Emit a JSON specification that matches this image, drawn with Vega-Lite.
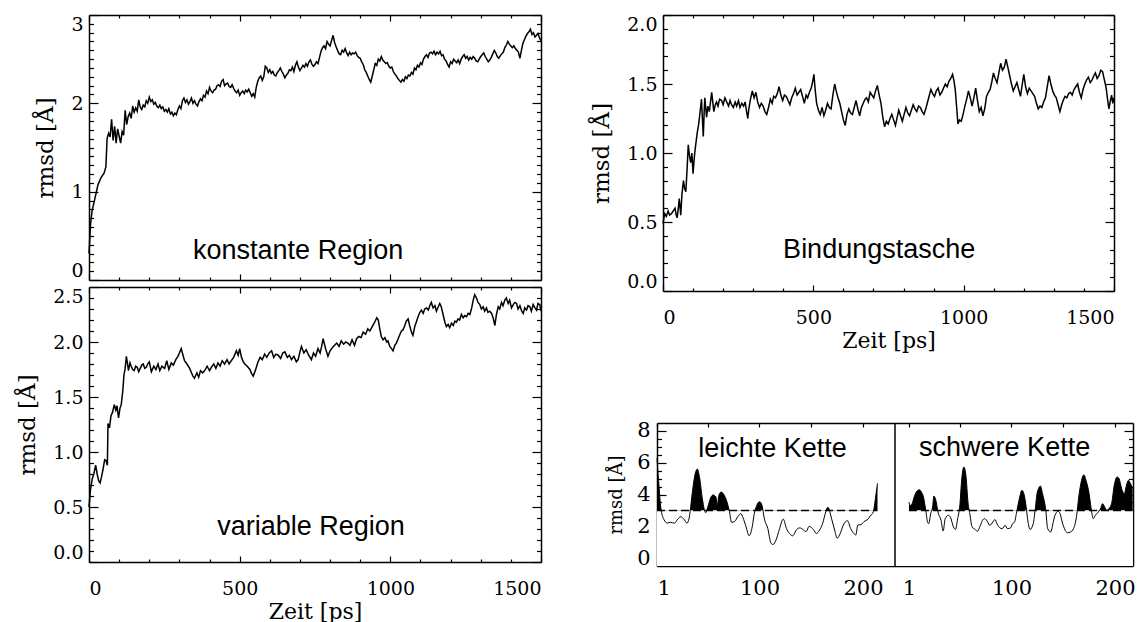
{
"$schema": "https://vega.github.io/schema/vega-lite/v6.json",
"background": "white",
"padding": {"left": 16, "top": 14, "right": 0, "bottom": 0},
"spacing": 46,
"config": {
  "view": {"stroke": null},
  "axis": {"domain": true, "domainColor": "black", "domainWidth": 1.5, "tickColor": "black", "tickWidth": 1.2,
    "labelFont": "DejaVu Serif", "labelFontSize": 19, "labelColor": "black",
    "titleFont": "DejaVu Serif", "titleFontSize": 23, "titleFontWeight": "normal", "titleColor": "black",
    "grid": false, "zindex": 1, "labelOverlap": false, "labelBound": false},
  "text": {"font": "Liberation Sans", "fontSize": 27, "color": "black"}
},
"datasets": {
"konstant": [{"t":0,"r":0.30},{"t":5,"r":0.62},{"t":10,"r":0.78},{"t":20,"r":0.93},{"t":30,"r":1.08},{"t":40,"r":1.16},{"t":50,"r":1.21},{"t":56,"r":1.28},{"t":60,"r":1.60},{"t":65,"r":1.66},{"t":70,"r":1.62},{"t":75,"r":1.82},{"t":80,"r":1.58},{"t":85,"r":1.74},{"t":90,"r":1.55},{"t":95,"r":1.71},{"t":100,"r":1.63},{"t":105,"r":1.55},{"t":110,"r":1.68},{"t":115,"r":1.64},{"t":120,"r":1.92},{"t":125,"r":1.76},{"t":130,"r":1.85},{"t":135,"r":1.89},{"t":140,"r":1.83},{"t":145,"r":1.97},{"t":150,"r":1.90},{"t":155,"r":1.95},{"t":160,"r":1.91},{"t":165,"r":2.04},{"t":170,"r":1.96},{"t":175,"r":1.93},{"t":180,"r":1.98},{"t":185,"r":1.96},{"t":190,"r":2.03},{"t":195,"r":2.00},{"t":200,"r":2.07},{"t":205,"r":2.02},{"t":210,"r":2.04},{"t":215,"r":1.99},{"t":220,"r":2.01},{"t":225,"r":1.97},{"t":230,"r":1.95},{"t":235,"r":1.98},{"t":240,"r":1.94},{"t":245,"r":1.96},{"t":250,"r":1.91},{"t":255,"r":1.93},{"t":260,"r":1.90},{"t":265,"r":1.94},{"t":270,"r":1.88},{"t":275,"r":1.90},{"t":280,"r":1.86},{"t":285,"r":1.89},{"t":290,"r":1.87},{"t":295,"r":1.93},{"t":300,"r":1.97},{"t":305,"r":1.94},{"t":310,"r":2.03},{"t":315,"r":2.06},{"t":320,"r":2.01},{"t":325,"r":2.04},{"t":330,"r":1.99},{"t":335,"r":2.02},{"t":340,"r":2.06},{"t":345,"r":2.00},{"t":350,"r":2.03},{"t":355,"r":1.99},{"t":360,"r":1.97},{"t":365,"r":2.02},{"t":370,"r":2.05},{"t":375,"r":2.03},{"t":380,"r":2.09},{"t":385,"r":2.07},{"t":390,"r":2.14},{"t":395,"r":2.11},{"t":400,"r":2.18},{"t":405,"r":2.14},{"t":410,"r":2.12},{"t":415,"r":2.15},{"t":420,"r":2.16},{"t":425,"r":2.20},{"t":430,"r":2.21},{"t":435,"r":2.19},{"t":440,"r":2.25},{"t":445,"r":2.27},{"t":450,"r":2.20},{"t":455,"r":2.22},{"t":460,"r":2.23},{"t":465,"r":2.19},{"t":470,"r":2.18},{"t":475,"r":2.21},{"t":480,"r":2.17},{"t":485,"r":2.14},{"t":490,"r":2.12},{"t":495,"r":2.15},{"t":500,"r":2.09},{"t":505,"r":2.12},{"t":510,"r":2.14},{"t":515,"r":2.11},{"t":520,"r":2.15},{"t":525,"r":2.13},{"t":530,"r":2.16},{"t":535,"r":2.12},{"t":540,"r":2.08},{"t":545,"r":2.11},{"t":550,"r":2.07},{"t":555,"r":2.18},{"t":560,"r":2.25},{"t":565,"r":2.29},{"t":570,"r":2.31},{"t":575,"r":2.26},{"t":580,"r":2.30},{"t":585,"r":2.42},{"t":590,"r":2.40},{"t":595,"r":2.35},{"t":600,"r":2.38},{"t":605,"r":2.34},{"t":610,"r":2.36},{"t":615,"r":2.32},{"t":620,"r":2.31},{"t":625,"r":2.35},{"t":630,"r":2.37},{"t":635,"r":2.40},{"t":640,"r":2.36},{"t":645,"r":2.33},{"t":650,"r":2.29},{"t":655,"r":2.32},{"t":660,"r":2.34},{"t":665,"r":2.38},{"t":670,"r":2.37},{"t":675,"r":2.41},{"t":680,"r":2.36},{"t":685,"r":2.43},{"t":690,"r":2.47},{"t":695,"r":2.41},{"t":700,"r":2.37},{"t":705,"r":2.40},{"t":710,"r":2.43},{"t":715,"r":2.41},{"t":720,"r":2.45},{"t":725,"r":2.42},{"t":730,"r":2.47},{"t":735,"r":2.49},{"t":740,"r":2.44},{"t":745,"r":2.42},{"t":750,"r":2.44},{"t":755,"r":2.47},{"t":760,"r":2.45},{"t":765,"r":2.52},{"t":770,"r":2.59},{"t":775,"r":2.63},{"t":780,"r":2.65},{"t":785,"r":2.62},{"t":790,"r":2.70},{"t":795,"r":2.67},{"t":800,"r":2.65},{"t":805,"r":2.71},{"t":810,"r":2.77},{"t":815,"r":2.69},{"t":820,"r":2.64},{"t":825,"r":2.60},{"t":830,"r":2.56},{"t":835,"r":2.55},{"t":840,"r":2.60},{"t":845,"r":2.58},{"t":850,"r":2.62},{"t":855,"r":2.57},{"t":860,"r":2.54},{"t":865,"r":2.58},{"t":870,"r":2.55},{"t":875,"r":2.57},{"t":880,"r":2.56},{"t":885,"r":2.58},{"t":890,"r":2.54},{"t":895,"r":2.52},{"t":900,"r":2.51},{"t":905,"r":2.47},{"t":910,"r":2.44},{"t":915,"r":2.38},{"t":920,"r":2.35},{"t":925,"r":2.31},{"t":930,"r":2.27},{"t":935,"r":2.24},{"t":940,"r":2.31},{"t":945,"r":2.38},{"t":950,"r":2.45},{"t":955,"r":2.43},{"t":960,"r":2.50},{"t":965,"r":2.48},{"t":970,"r":2.53},{"t":975,"r":2.49},{"t":980,"r":2.47},{"t":985,"r":2.45},{"t":990,"r":2.46},{"t":995,"r":2.42},{"t":1000,"r":2.40},{"t":1005,"r":2.41},{"t":1010,"r":2.36},{"t":1015,"r":2.33},{"t":1020,"r":2.31},{"t":1025,"r":2.28},{"t":1030,"r":2.26},{"t":1035,"r":2.24},{"t":1040,"r":2.27},{"t":1045,"r":2.25},{"t":1050,"r":2.30},{"t":1055,"r":2.28},{"t":1060,"r":2.32},{"t":1065,"r":2.31},{"t":1070,"r":2.35},{"t":1075,"r":2.33},{"t":1080,"r":2.40},{"t":1085,"r":2.38},{"t":1090,"r":2.43},{"t":1095,"r":2.41},{"t":1100,"r":2.46},{"t":1105,"r":2.44},{"t":1110,"r":2.50},{"t":1115,"r":2.53},{"t":1120,"r":2.55},{"t":1125,"r":2.52},{"t":1130,"r":2.57},{"t":1135,"r":2.58},{"t":1140,"r":2.56},{"t":1145,"r":2.59},{"t":1150,"r":2.55},{"t":1155,"r":2.58},{"t":1160,"r":2.56},{"t":1165,"r":2.59},{"t":1170,"r":2.54},{"t":1175,"r":2.55},{"t":1180,"r":2.50},{"t":1185,"r":2.48},{"t":1190,"r":2.44},{"t":1195,"r":2.41},{"t":1200,"r":2.47},{"t":1205,"r":2.45},{"t":1210,"r":2.50},{"t":1215,"r":2.48},{"t":1220,"r":2.46},{"t":1225,"r":2.49},{"t":1230,"r":2.45},{"t":1235,"r":2.50},{"t":1240,"r":2.53},{"t":1245,"r":2.55},{"t":1250,"r":2.51},{"t":1255,"r":2.53},{"t":1260,"r":2.49},{"t":1265,"r":2.52},{"t":1270,"r":2.50},{"t":1275,"r":2.53},{"t":1280,"r":2.51},{"t":1285,"r":2.48},{"t":1290,"r":2.47},{"t":1295,"r":2.50},{"t":1300,"r":2.53},{"t":1305,"r":2.55},{"t":1310,"r":2.57},{"t":1315,"r":2.53},{"t":1320,"r":2.50},{"t":1325,"r":2.47},{"t":1330,"r":2.49},{"t":1335,"r":2.52},{"t":1340,"r":2.56},{"t":1345,"r":2.60},{"t":1350,"r":2.57},{"t":1355,"r":2.53},{"t":1360,"r":2.51},{"t":1365,"r":2.54},{"t":1370,"r":2.56},{"t":1375,"r":2.58},{"t":1380,"r":2.63},{"t":1385,"r":2.66},{"t":1390,"r":2.70},{"t":1395,"r":2.67},{"t":1400,"r":2.65},{"t":1405,"r":2.63},{"t":1410,"r":2.65},{"t":1415,"r":2.62},{"t":1420,"r":2.60},{"t":1425,"r":2.58},{"t":1430,"r":2.51},{"t":1435,"r":2.60},{"t":1440,"r":2.68},{"t":1445,"r":2.72},{"t":1450,"r":2.76},{"t":1455,"r":2.79},{"t":1460,"r":2.81},{"t":1465,"r":2.84},{"t":1470,"r":2.78},{"t":1475,"r":2.80},{"t":1480,"r":2.75},{"t":1485,"r":2.77},{"t":1490,"r":2.79},{"t":1495,"r":2.74},{"t":1500,"r":2.71}],
"variabel": [{"t":0,"r":0.50},{"t":5,"r":0.66},{"t":11,"r":0.76},{"t":16,"r":0.80},{"t":22,"r":0.88},{"t":27,"r":0.80},{"t":32,"r":0.74},{"t":37,"r":0.72},{"t":42,"r":0.78},{"t":47,"r":0.85},{"t":52,"r":0.93},{"t":57,"r":0.92},{"t":61,"r":0.88},{"t":63,"r":1.26},{"t":68,"r":1.22},{"t":73,"r":1.33},{"t":78,"r":1.36},{"t":84,"r":1.43},{"t":89,"r":1.38},{"t":93,"r":1.42},{"t":98,"r":1.31},{"t":103,"r":1.40},{"t":107,"r":1.43},{"t":112,"r":1.55},{"t":116,"r":1.70},{"t":120,"r":1.76},{"t":124,"r":1.87},{"t":128,"r":1.80},{"t":131,"r":1.74},{"t":136,"r":1.81},{"t":140,"r":1.78},{"t":145,"r":1.75},{"t":150,"r":1.74},{"t":155,"r":1.78},{"t":160,"r":1.77},{"t":165,"r":1.73},{"t":170,"r":1.76},{"t":175,"r":1.79},{"t":180,"r":1.80},{"t":185,"r":1.76},{"t":190,"r":1.77},{"t":195,"r":1.80},{"t":200,"r":1.82},{"t":207,"r":1.73},{"t":215,"r":1.78},{"t":222,"r":1.75},{"t":229,"r":1.80},{"t":235,"r":1.74},{"t":242,"r":1.78},{"t":251,"r":1.76},{"t":258,"r":1.83},{"t":265,"r":1.75},{"t":273,"r":1.81},{"t":280,"r":1.79},{"t":288,"r":1.84},{"t":295,"r":1.87},{"t":300,"r":1.90},{"t":306,"r":1.94},{"t":312,"r":1.88},{"t":317,"r":1.83},{"t":325,"r":1.80},{"t":334,"r":1.76},{"t":340,"r":1.72},{"t":345,"r":1.69},{"t":350,"r":1.67},{"t":358,"r":1.72},{"t":364,"r":1.68},{"t":370,"r":1.74},{"t":377,"r":1.72},{"t":384,"r":1.74},{"t":392,"r":1.78},{"t":400,"r":1.74},{"t":406,"r":1.77},{"t":414,"r":1.80},{"t":421,"r":1.76},{"t":428,"r":1.81},{"t":435,"r":1.78},{"t":442,"r":1.83},{"t":450,"r":1.80},{"t":458,"r":1.84},{"t":465,"r":1.80},{"t":472,"r":1.83},{"t":480,"r":1.86},{"t":489,"r":1.92},{"t":495,"r":1.88},{"t":500,"r":1.94},{"t":506,"r":1.86},{"t":512,"r":1.82},{"t":517,"r":1.80},{"t":525,"r":1.78},{"t":534,"r":1.75},{"t":540,"r":1.71},{"t":545,"r":1.69},{"t":552,"r":1.74},{"t":561,"r":1.82},{"t":568,"r":1.86},{"t":575,"r":1.84},{"t":583,"r":1.89},{"t":590,"r":1.86},{"t":598,"r":1.90},{"t":606,"r":1.92},{"t":613,"r":1.86},{"t":620,"r":1.89},{"t":628,"r":1.88},{"t":636,"r":1.85},{"t":643,"r":1.90},{"t":650,"r":1.91},{"t":658,"r":1.86},{"t":665,"r":1.88},{"t":672,"r":1.84},{"t":680,"r":1.87},{"t":688,"r":1.82},{"t":694,"r":1.84},{"t":700,"r":1.91},{"t":705,"r":1.96},{"t":713,"r":1.90},{"t":721,"r":1.93},{"t":729,"r":1.88},{"t":738,"r":1.84},{"t":745,"r":1.90},{"t":752,"r":1.87},{"t":760,"r":1.94},{"t":767,"r":1.90},{"t":772,"r":1.96},{"t":777,"r":2.03},{"t":785,"r":1.94},{"t":793,"r":1.87},{"t":800,"r":1.92},{"t":808,"r":1.95},{"t":815,"r":1.97},{"t":822,"r":1.99},{"t":830,"r":1.96},{"t":837,"r":2.01},{"t":845,"r":1.98},{"t":852,"r":2.00},{"t":859,"r":1.99},{"t":866,"r":1.97},{"t":873,"r":2.02},{"t":881,"r":1.97},{"t":888,"r":2.03},{"t":895,"r":2.05},{"t":903,"r":2.04},{"t":910,"r":2.09},{"t":918,"r":2.07},{"t":925,"r":2.12},{"t":932,"r":2.10},{"t":940,"r":2.14},{"t":948,"r":2.18},{"t":955,"r":2.22},{"t":960,"r":2.20},{"t":965,"r":2.12},{"t":970,"r":2.05},{"t":976,"r":2.02},{"t":982,"r":2.04},{"t":988,"r":2.00},{"t":992,"r":2.01},{"t":998,"r":1.96},{"t":1004,"r":1.94},{"t":1009,"r":1.92},{"t":1015,"r":1.97},{"t":1020,"r":1.99},{"t":1026,"r":2.03},{"t":1032,"r":2.07},{"t":1037,"r":2.10},{"t":1042,"r":2.11},{"t":1048,"r":2.15},{"t":1053,"r":2.19},{"t":1059,"r":2.21},{"t":1064,"r":2.15},{"t":1070,"r":2.09},{"t":1075,"r":2.06},{"t":1081,"r":2.14},{"t":1086,"r":2.18},{"t":1092,"r":2.23},{"t":1098,"r":2.27},{"t":1103,"r":2.29},{"t":1109,"r":2.26},{"t":1114,"r":2.30},{"t":1120,"r":2.31},{"t":1126,"r":2.29},{"t":1131,"r":2.33},{"t":1136,"r":2.36},{"t":1142,"r":2.31},{"t":1148,"r":2.33},{"t":1153,"r":2.28},{"t":1159,"r":2.32},{"t":1164,"r":2.35},{"t":1169,"r":2.32},{"t":1175,"r":2.25},{"t":1181,"r":2.18},{"t":1186,"r":2.14},{"t":1192,"r":2.16},{"t":1197,"r":2.13},{"t":1203,"r":2.17},{"t":1209,"r":2.15},{"t":1214,"r":2.19},{"t":1219,"r":2.18},{"t":1225,"r":2.21},{"t":1230,"r":2.20},{"t":1236,"r":2.25},{"t":1242,"r":2.22},{"t":1247,"r":2.24},{"t":1253,"r":2.23},{"t":1258,"r":2.26},{"t":1264,"r":2.25},{"t":1270,"r":2.31},{"t":1275,"r":2.38},{"t":1280,"r":2.43},{"t":1286,"r":2.40},{"t":1291,"r":2.36},{"t":1297,"r":2.34},{"t":1302,"r":2.30},{"t":1308,"r":2.32},{"t":1313,"r":2.28},{"t":1319,"r":2.31},{"t":1324,"r":2.27},{"t":1330,"r":2.28},{"t":1336,"r":2.26},{"t":1341,"r":2.22},{"t":1347,"r":2.15},{"t":1352,"r":2.25},{"t":1358,"r":2.32},{"t":1363,"r":2.30},{"t":1369,"r":2.36},{"t":1374,"r":2.33},{"t":1380,"r":2.38},{"t":1385,"r":2.40},{"t":1391,"r":2.35},{"t":1396,"r":2.38},{"t":1402,"r":2.31},{"t":1408,"r":2.34},{"t":1413,"r":2.36},{"t":1419,"r":2.35},{"t":1424,"r":2.30},{"t":1430,"r":2.33},{"t":1436,"r":2.28},{"t":1441,"r":2.26},{"t":1446,"r":2.31},{"t":1452,"r":2.29},{"t":1457,"r":2.33},{"t":1463,"r":2.32},{"t":1468,"r":2.28},{"t":1474,"r":2.34},{"t":1480,"r":2.31},{"t":1485,"r":2.29},{"t":1490,"r":2.35},{"t":1496,"r":2.34},{"t":1500,"r":2.28}],
"tasche": [{"t":0,"r":0.49},{"t":3,"r":0.53},{"t":6,"r":0.56},{"t":11,"r":0.54},{"t":17,"r":0.58},{"t":22,"r":0.55},{"t":28,"r":0.56},{"t":34,"r":0.58},{"t":40,"r":0.60},{"t":44,"r":0.55},{"t":47,"r":0.53},{"t":51,"r":0.60},{"t":54,"r":0.67},{"t":57,"r":0.60},{"t":59,"r":0.55},{"t":63,"r":0.70},{"t":68,"r":0.80},{"t":72,"r":0.74},{"t":76,"r":0.72},{"t":80,"r":0.88},{"t":84,"r":1.06},{"t":88,"r":0.98},{"t":92,"r":0.93},{"t":96,"r":1.00},{"t":100,"r":0.85},{"t":103,"r":0.94},{"t":106,"r":1.01},{"t":110,"r":1.08},{"t":114,"r":1.15},{"t":118,"r":1.20},{"t":123,"r":1.29},{"t":128,"r":1.39},{"t":131,"r":1.25},{"t":134,"r":1.12},{"t":137,"r":1.30},{"t":139,"r":1.40},{"t":142,"r":1.33},{"t":145,"r":1.26},{"t":149,"r":1.34},{"t":154,"r":1.30},{"t":158,"r":1.37},{"t":162,"r":1.44},{"t":166,"r":1.36},{"t":169,"r":1.30},{"t":174,"r":1.35},{"t":178,"r":1.37},{"t":183,"r":1.34},{"t":188,"r":1.39},{"t":195,"r":1.38},{"t":200,"r":1.35},{"t":206,"r":1.40},{"t":212,"r":1.37},{"t":218,"r":1.34},{"t":223,"r":1.38},{"t":228,"r":1.35},{"t":234,"r":1.33},{"t":240,"r":1.37},{"t":245,"r":1.34},{"t":251,"r":1.38},{"t":256,"r":1.33},{"t":262,"r":1.36},{"t":268,"r":1.34},{"t":273,"r":1.37},{"t":278,"r":1.30},{"t":282,"r":1.25},{"t":285,"r":1.31},{"t":290,"r":1.38},{"t":297,"r":1.45},{"t":303,"r":1.40},{"t":309,"r":1.44},{"t":315,"r":1.37},{"t":321,"r":1.33},{"t":327,"r":1.36},{"t":333,"r":1.34},{"t":339,"r":1.30},{"t":345,"r":1.28},{"t":351,"r":1.33},{"t":357,"r":1.39},{"t":363,"r":1.36},{"t":368,"r":1.41},{"t":374,"r":1.40},{"t":380,"r":1.43},{"t":386,"r":1.48},{"t":392,"r":1.42},{"t":398,"r":1.38},{"t":404,"r":1.42},{"t":410,"r":1.41},{"t":416,"r":1.38},{"t":422,"r":1.35},{"t":428,"r":1.40},{"t":434,"r":1.43},{"t":440,"r":1.47},{"t":446,"r":1.42},{"t":452,"r":1.44},{"t":458,"r":1.46},{"t":464,"r":1.41},{"t":470,"r":1.36},{"t":476,"r":1.42},{"t":481,"r":1.40},{"t":487,"r":1.44},{"t":493,"r":1.47},{"t":498,"r":1.52},{"t":502,"r":1.57},{"t":506,"r":1.46},{"t":511,"r":1.36},{"t":517,"r":1.31},{"t":523,"r":1.28},{"t":529,"r":1.33},{"t":535,"r":1.27},{"t":541,"r":1.31},{"t":547,"r":1.36},{"t":553,"r":1.33},{"t":559,"r":1.32},{"t":565,"r":1.42},{"t":571,"r":1.50},{"t":576,"r":1.45},{"t":582,"r":1.40},{"t":588,"r":1.36},{"t":594,"r":1.30},{"t":600,"r":1.24},{"t":606,"r":1.20},{"t":612,"r":1.28},{"t":618,"r":1.32},{"t":624,"r":1.29},{"t":630,"r":1.28},{"t":636,"r":1.33},{"t":642,"r":1.38},{"t":648,"r":1.32},{"t":654,"r":1.27},{"t":660,"r":1.33},{"t":666,"r":1.36},{"t":672,"r":1.39},{"t":677,"r":1.40},{"t":683,"r":1.37},{"t":689,"r":1.44},{"t":695,"r":1.42},{"t":701,"r":1.40},{"t":707,"r":1.45},{"t":713,"r":1.49},{"t":719,"r":1.42},{"t":725,"r":1.36},{"t":731,"r":1.26},{"t":737,"r":1.19},{"t":743,"r":1.23},{"t":749,"r":1.21},{"t":755,"r":1.25},{"t":761,"r":1.28},{"t":767,"r":1.24},{"t":773,"r":1.20},{"t":779,"r":1.26},{"t":784,"r":1.31},{"t":790,"r":1.27},{"t":796,"r":1.23},{"t":802,"r":1.28},{"t":808,"r":1.33},{"t":814,"r":1.29},{"t":820,"r":1.27},{"t":826,"r":1.31},{"t":832,"r":1.35},{"t":838,"r":1.32},{"t":844,"r":1.30},{"t":850,"r":1.34},{"t":856,"r":1.33},{"t":862,"r":1.30},{"t":868,"r":1.28},{"t":874,"r":1.32},{"t":880,"r":1.37},{"t":886,"r":1.42},{"t":891,"r":1.46},{"t":897,"r":1.43},{"t":903,"r":1.41},{"t":909,"r":1.45},{"t":915,"r":1.47},{"t":921,"r":1.42},{"t":927,"r":1.44},{"t":933,"r":1.47},{"t":939,"r":1.50},{"t":945,"r":1.48},{"t":951,"r":1.52},{"t":957,"r":1.54},{"t":963,"r":1.57},{"t":968,"r":1.52},{"t":972,"r":1.46},{"t":976,"r":1.35},{"t":981,"r":1.21},{"t":986,"r":1.24},{"t":992,"r":1.23},{"t":998,"r":1.28},{"t":1004,"r":1.34},{"t":1010,"r":1.39},{"t":1016,"r":1.45},{"t":1022,"r":1.40},{"t":1028,"r":1.34},{"t":1034,"r":1.40},{"t":1040,"r":1.47},{"t":1046,"r":1.38},{"t":1052,"r":1.30},{"t":1058,"r":1.33},{"t":1064,"r":1.27},{"t":1070,"r":1.32},{"t":1076,"r":1.41},{"t":1082,"r":1.44},{"t":1088,"r":1.46},{"t":1094,"r":1.52},{"t":1099,"r":1.58},{"t":1105,"r":1.54},{"t":1111,"r":1.51},{"t":1117,"r":1.58},{"t":1123,"r":1.65},{"t":1129,"r":1.60},{"t":1135,"r":1.62},{"t":1141,"r":1.68},{"t":1147,"r":1.62},{"t":1153,"r":1.56},{"t":1159,"r":1.50},{"t":1165,"r":1.45},{"t":1171,"r":1.48},{"t":1177,"r":1.51},{"t":1183,"r":1.46},{"t":1189,"r":1.41},{"t":1195,"r":1.50},{"t":1200,"r":1.57},{"t":1206,"r":1.48},{"t":1212,"r":1.43},{"t":1218,"r":1.47},{"t":1224,"r":1.45},{"t":1230,"r":1.43},{"t":1236,"r":1.41},{"t":1242,"r":1.36},{"t":1248,"r":1.32},{"t":1254,"r":1.34},{"t":1260,"r":1.33},{"t":1266,"r":1.37},{"t":1272,"r":1.40},{"t":1278,"r":1.48},{"t":1284,"r":1.56},{"t":1290,"r":1.50},{"t":1296,"r":1.45},{"t":1302,"r":1.42},{"t":1308,"r":1.40},{"t":1314,"r":1.35},{"t":1320,"r":1.30},{"t":1326,"r":1.35},{"t":1331,"r":1.38},{"t":1337,"r":1.41},{"t":1343,"r":1.40},{"t":1349,"r":1.43},{"t":1355,"r":1.44},{"t":1361,"r":1.42},{"t":1367,"r":1.46},{"t":1373,"r":1.48},{"t":1379,"r":1.50},{"t":1385,"r":1.44},{"t":1391,"r":1.40},{"t":1397,"r":1.46},{"t":1403,"r":1.50},{"t":1409,"r":1.53},{"t":1415,"r":1.55},{"t":1421,"r":1.51},{"t":1427,"r":1.53},{"t":1433,"r":1.56},{"t":1438,"r":1.58},{"t":1444,"r":1.54},{"t":1450,"r":1.56},{"t":1456,"r":1.60},{"t":1462,"r":1.59},{"t":1468,"r":1.53},{"t":1474,"r":1.47},{"t":1478,"r":1.40},{"t":1483,"r":1.32},{"t":1488,"r":1.38},{"t":1492,"r":1.42},{"t":1496,"r":1.36},{"t":1500,"r":1.40}],
"leicht": [{"res":1,"r":6.3},{"res":2,"r":5.3},{"res":3,"r":4.5},{"res":4,"r":3.6},{"res":5,"r":3.02},{"res":8,"r":2.39},{"res":11,"r":2.2},{"res":14,"r":2.25},{"res":18,"r":2.2},{"res":21,"r":2.45},{"res":24,"r":2.6},{"res":27,"r":2.45},{"res":30,"r":2.2},{"res":32,"r":2.5},{"res":33,"r":2.92},{"res":35,"r":4.07},{"res":38,"r":5.33},{"res":40,"r":5.6},{"res":42,"r":5.12},{"res":45,"r":3.65},{"res":48,"r":2.85},{"res":50,"r":3.2},{"res":53,"r":3.82},{"res":55,"r":3.97},{"res":58,"r":3.85},{"res":59,"r":3.3},{"res":61,"r":4.0},{"res":63,"r":4.15},{"res":66,"r":3.95},{"res":68,"r":3.65},{"res":71,"r":2.92},{"res":73,"r":2.25},{"res":76,"r":2.3},{"res":79,"r":2.6},{"res":82,"r":2.8},{"res":84,"r":2.55},{"res":87,"r":1.97},{"res":90,"r":1.4},{"res":93,"r":1.97},{"res":95,"r":2.81},{"res":97,"r":3.25},{"res":100,"r":3.55},{"res":102,"r":3.4},{"res":105,"r":2.39},{"res":108,"r":1.87},{"res":111,"r":0.95},{"res":113,"r":0.85},{"res":116,"r":1.14},{"res":119,"r":1.76},{"res":123,"r":2.45},{"res":126,"r":1.87},{"res":129,"r":1.55},{"res":132,"r":1.4},{"res":136,"r":1.8},{"res":139,"r":1.9},{"res":142,"r":1.8},{"res":145,"r":1.66},{"res":148,"r":2.0},{"res":152,"r":1.8},{"res":155,"r":1.55},{"res":158,"r":1.76},{"res":161,"r":2.18},{"res":164,"r":2.9},{"res":166,"r":3.2},{"res":170,"r":2.39},{"res":173,"r":1.66},{"res":175,"r":1.25},{"res":178,"r":1.55},{"res":181,"r":2.08},{"res":185,"r":2.35},{"res":188,"r":1.87},{"res":191,"r":1.55},{"res":193,"r":1.45},{"res":195,"r":2.08},{"res":198,"r":2.1},{"res":201,"r":2.3},{"res":204,"r":2.4},{"res":207,"r":2.65},{"res":210,"r":2.92},{"res":212,"r":3.76},{"res":214,"r":4.7}],
"schwer": [{"res":1,"r":3.52},{"res":2,"r":3.31},{"res":4,"r":3.42},{"res":6,"r":3.84},{"res":8,"r":4.15},{"res":11,"r":4.3},{"res":13,"r":4.15},{"res":15,"r":3.84},{"res":17,"r":3.1},{"res":19,"r":2.25},{"res":20,"r":2.16},{"res":22,"r":2.79},{"res":24,"r":3.31},{"res":25,"r":3.9},{"res":27,"r":3.63},{"res":29,"r":2.9},{"res":32,"r":2.37},{"res":34,"r":1.7},{"res":36,"r":2.48},{"res":39,"r":2.69},{"res":41,"r":2.58},{"res":44,"r":1.95},{"res":46,"r":1.8},{"res":48,"r":2.48},{"res":50,"r":3.21},{"res":52,"r":4.99},{"res":54,"r":5.73},{"res":56,"r":5.2},{"res":58,"r":3.52},{"res":60,"r":2.69},{"res":62,"r":1.95},{"res":65,"r":1.8},{"res":67,"r":1.68},{"res":70,"r":2.06},{"res":72,"r":2.37},{"res":74,"r":2.48},{"res":77,"r":2.27},{"res":79,"r":2.06},{"res":82,"r":2.27},{"res":84,"r":2.43},{"res":86,"r":2.16},{"res":89,"r":1.89},{"res":91,"r":1.85},{"res":94,"r":2.06},{"res":96,"r":1.85},{"res":99,"r":1.89},{"res":101,"r":2.16},{"res":103,"r":2.27},{"res":105,"r":2.9},{"res":108,"r":3.84},{"res":110,"r":4.26},{"res":112,"r":4.05},{"res":114,"r":3.31},{"res":116,"r":2.27},{"res":118,"r":1.8},{"res":121,"r":2.16},{"res":123,"r":3.1},{"res":125,"r":4.15},{"res":128,"r":4.53},{"res":130,"r":4.05},{"res":133,"r":3.1},{"res":135,"r":1.85},{"res":138,"r":1.64},{"res":140,"r":2.16},{"res":142,"r":2.69},{"res":145,"r":2.94},{"res":147,"r":2.79},{"res":149,"r":2.27},{"res":152,"r":1.74},{"res":154,"r":1.59},{"res":157,"r":1.64},{"res":160,"r":1.85},{"res":163,"r":2.69},{"res":165,"r":3.84},{"res":167,"r":4.68},{"res":170,"r":5.24},{"res":172,"r":4.89},{"res":175,"r":4.05},{"res":177,"r":3.1},{"res":179,"r":2.48},{"res":181,"r":2.69},{"res":184,"r":2.9},{"res":186,"r":3.1},{"res":188,"r":3.42},{"res":190,"r":3.21},{"res":192,"r":3.0},{"res":194,"r":3.1},{"res":197,"r":3.52},{"res":199,"r":4.47},{"res":202,"r":5.1},{"res":204,"r":4.99},{"res":206,"r":4.47},{"res":209,"r":4.05},{"res":211,"r":4.57},{"res":213,"r":4.89},{"res":215,"r":4.68},{"res":217,"r":4.4}]
},
"hconcat": [
 {"vconcat": [
  {"width": 452, "height": 265, "data": {"name": "konstant"},
   "layer": [
    {"mark": {"type": "line", "color": "black", "strokeWidth": 1.5},
     "encoding": {
      "x": {"field": "t", "type": "quantitative", "scale": {"domain": [0, 1500], "nice": false, "zero": false},
        "axis": {"orient": "bottom", "values": [0,100,200,300,400,500,600,700,800,900,1000,1100,1200,1300,1400,1500], "labels": false, "title": null,
          "tickSize": {"condition": {"test": "datum.value % 500 === 0", "value": -6}, "value": -3}}},
      "y": {"field": "r", "type": "quantitative", "scale": {"domain": [0, 3], "nice": false, "zero": false},
        "axis": {"orient": "left", "values": [0,0.1,0.2,0.3,0.4,0.5,0.6,0.7,0.8,0.9,1,1.1,1.2,1.3,1.4,1.5,1.6,1.7,1.8,1.9,2,2.1,2.2,2.3,2.4,2.5,2.6,2.7,2.8,2.9,3],
          "labelExpr": "datum.value % 1 === 0 ? format(datum.value, 'd') : ''", "labelFlush": true, "labelPadding": 15, "labelOverlap": false,
          "tickSize": {"condition": {"test": "datum.value % 1 === 0", "value": -9}, "value": -4.5},
          "title": "rmsd [Å]", "titlePadding": 13}}
     }},
    {"mark": {"type": "line", "opacity": 0},
     "encoding": {
      "x": {"field": "t", "type": "quantitative",
        "axis": {"orient": "top", "values": [0,100,200,300,400,500,600,700,800,900,1000,1100,1200,1300,1400,1500], "labels": false, "title": null,
          "tickSize": {"condition": {"test": "datum.value % 500 === 0", "value": -6}, "value": -3}}},
      "y": {"field": "r", "type": "quantitative",
        "axis": {"orient": "right", "values": [0,0.1,0.2,0.3,0.4,0.5,0.6,0.7,0.8,0.9,1,1.1,1.2,1.3,1.4,1.5,1.6,1.7,1.8,1.9,2,2.1,2.2,2.3,2.4,2.5,2.6,2.7,2.8,2.9,3],
          "labels": false, "title": null,
          "tickSize": {"condition": {"test": "datum.value % 1 === 0", "value": -9}, "value": -4.5}}}
     }},
    {"data": {"values": [{}]},
     "mark": {"type": "text", "align": "center", "baseline": "alphabetic"},
     "encoding": {"x": {"datum": 694, "type": "quantitative", "axis": null}, "y": {"datum": 0.237, "type": "quantitative", "axis": null}, "text": {"value": "konstante Region"}}}
   ],
   "resolve": {"axis": {"x": "independent", "y": "independent"}}
  },
  {"width": 452, "height": 275, "data": {"name": "variabel"},
   "layer": [
    {"mark": {"type": "line", "color": "black", "strokeWidth": 1.5},
     "encoding": {
      "x": {"field": "t", "type": "quantitative", "scale": {"domain": [0, 1500], "nice": false, "zero": false},
        "axis": {"orient": "bottom", "values": [0,100,200,300,400,500,600,700,800,900,1000,1100,1200,1300,1400,1500],
          "labelExpr": "datum.value % 500 === 0 ? format(datum.value, 'd') : ''", "labelPadding": 23,
          "tickSize": {"condition": {"test": "datum.value % 500 === 0", "value": -6}, "value": -3},
          "title": "Zeit [ps]", "titleFontSize": 22, "titlePadding": 0}},
      "y": {"field": "r", "type": "quantitative", "scale": {"domain": [0, 2.5], "nice": false, "zero": false},
        "axis": {"orient": "left", "values": [0,0.1,0.2,0.3,0.4,0.5,0.6,0.7,0.8,0.9,1,1.1,1.2,1.3,1.4,1.5,1.6,1.7,1.8,1.9,2,2.1,2.2,2.3,2.4,2.5],
          "labelExpr": "datum.value % 0.5 === 0 ? format(datum.value, '.1f') : ''", "labelFlush": true, "labelPadding": 15,
          "tickSize": {"condition": {"test": "datum.value % 0.5 === 0", "value": -9}, "value": -4.5},
          "title": "rmsd [Å]", "titlePadding": 13}}
     }},
    {"mark": {"type": "line", "opacity": 0},
     "encoding": {
      "x": {"field": "t", "type": "quantitative",
        "axis": {"orient": "top", "values": [0,100,200,300,400,500,600,700,800,900,1000,1100,1200,1300,1400,1500], "labels": false, "title": null,
          "tickSize": {"condition": {"test": "datum.value % 500 === 0", "value": -6}, "value": -3}}},
      "y": {"field": "r", "type": "quantitative",
        "axis": {"orient": "right", "values": [0,0.1,0.2,0.3,0.4,0.5,0.6,0.7,0.8,0.9,1,1.1,1.2,1.3,1.4,1.5,1.6,1.7,1.8,1.9,2,2.1,2.2,2.3,2.4,2.5],
          "labels": false, "title": null,
          "tickSize": {"condition": {"test": "datum.value % 0.5 === 0", "value": -9}, "value": -4.5}}}
     }},
    {"data": {"values": [{}]},
     "mark": {"type": "text", "align": "center", "baseline": "alphabetic"},
     "encoding": {"x": {"datum": 737, "type": "quantitative", "axis": null}, "y": {"datum": 0.245, "type": "quantitative", "axis": null}, "text": {"value": "variable Region"}}}
   ],
   "resolve": {"axis": {"x": "independent", "y": "independent"}}
  }
 ], "spacing": 7, "bounds": "flush"},
 {"vconcat": [
  {"width": 457, "height": 276, "data": {"name": "tasche"},
   "layer": [
    {"mark": {"type": "line", "color": "black", "strokeWidth": 1.5},
     "encoding": {
      "x": {"field": "t", "type": "quantitative", "scale": {"domain": [0, 1500], "nice": false, "zero": false, "range": [6, 457]},
        "axis": {"orient": "bottom", "values": [0,100,200,300,400,500,600,700,800,900,1000,1100,1200,1300,1400,1500],
          "labelExpr": "datum.value % 500 === 0 ? format(datum.value, 'd') : ''", "labelPadding": 23,
          "tickSize": {"condition": {"test": "datum.value % 500 === 0", "value": -6}, "value": -3},
          "title": "Zeit [ps]", "titleFontSize": 22, "titlePadding": 0}},
      "y": {"field": "r", "type": "quantitative", "scale": {"domain": [0, 2], "nice": false, "zero": false},
        "axis": {"orient": "left", "offset": -6, "values": [0,0.1,0.2,0.3,0.4,0.5,0.6,0.7,0.8,0.9,1,1.1,1.2,1.3,1.4,1.5,1.6,1.7,1.8,1.9,2],
          "labelExpr": "datum.value % 0.5 === 0 ? format(datum.value, '.1f') : ''", "labelFlush": true, "labelPadding": 15,
          "tickSize": {"condition": {"test": "datum.value % 0.5 === 0", "value": -9}, "value": -4.5},
          "title": "rmsd [Å]", "titlePadding": 13}}
     }},
    {"mark": {"type": "line", "opacity": 0},
     "encoding": {
      "x": {"field": "t", "type": "quantitative",
        "axis": {"orient": "top", "values": [0,100,200,300,400,500,600,700,800,900,1000,1100,1200,1300,1400,1500], "labels": false, "title": null,
          "tickSize": {"condition": {"test": "datum.value % 500 === 0", "value": -6}, "value": -3}}},
      "y": {"field": "r", "type": "quantitative",
        "axis": {"orient": "right", "values": [0,0.1,0.2,0.3,0.4,0.5,0.6,0.7,0.8,0.9,1,1.1,1.2,1.3,1.4,1.5,1.6,1.7,1.8,1.9,2],
          "labels": false, "title": null,
          "tickSize": {"condition": {"test": "datum.value % 0.5 === 0", "value": -9}, "value": -4.5}}}
     }},
    {"data": {"values": [{}]},
     "mark": {"type": "text", "align": "center", "baseline": "alphabetic"},
     "encoding": {"x": {"datum": 719, "type": "quantitative", "axis": null}, "y": {"datum": 0.24, "type": "quantitative", "axis": null}, "text": {"value": "Bindungstasche"}}}
   ],
   "resolve": {"axis": {"x": "independent", "y": "independent"}}
  },
  {"width": 476, "height": 143,
   "layer": [
    {"data": {"name": "leicht"}, "mark": {"type": "area", "color": "black", "interpolate": "monotone"},
     "encoding": {
      "x": {"field": "res", "type": "quantitative", "scale": {"domain": [1, 460.8], "nice": false, "zero": false},
        "axis": {"orient": "bottom", "values": [1,50,100,150,200], "labelExpr": "datum.value === 50 || datum.value === 150 ? '' : datum.label",
          "tickSize": -4, "labelPadding": 15, "labelFontSize": 21, "title": null}},
      "y": {"field": "r", "type": "quantitative", "scale": {"domain": [-0.5, 8.5], "nice": false, "zero": false},
        "axis": {"orient": "left", "values": [0,0.5,1,1.5,2,2.5,3,3.5,4,4.5,5,5.5,6,6.5,7,7.5,8],
          "labelExpr": "datum.value % 2 === 0 ? format(datum.value, 'd') : ''", "labelPadding": 16, "labelFontSize": 21,
          "tickSize": {"condition": {"test": "datum.value % 2 === 0", "value": -9}, "value": -4.5},
          "title": "rmsd [Å]", "titleFontSize": 18, "titlePadding": 11}},
      "y2": {"datum": 3}
     }},
    {"data": {"name": "schwer"}, "mark": {"type": "area", "color": "black", "interpolate": "monotone"},
     "encoding": {
      "x": {"field": "res", "type": "quantitative", "scale": {"domain": [-242.4, 217.4], "nice": false, "zero": false},
        "axis": {"orient": "bottom", "values": [1,50,100,150,200], "labelExpr": "datum.value === 50 || datum.value === 150 ? '' : datum.label",
          "tickSize": -4, "labelPadding": 15, "labelFontSize": 21, "title": null, "domain": false}},
      "y": {"field": "r", "type": "quantitative", "axis": null},
      "y2": {"datum": 3}
     }},
    {"data": {"values": [{}]}, "mark": {"type": "rect", "color": "white"},
     "encoding": {"x": {"datum": 1, "type": "quantitative", "scale": {"domain": [1, 460.8], "nice": false, "zero": false}, "axis": null}, "x2": {"datum": 460.8},
       "y": {"datum": 3, "type": "quantitative", "axis": null}, "y2": {"datum": -0.5}}},
    {"data": {"name": "leicht"}, "mark": {"type": "line", "color": "black", "strokeWidth": 1, "interpolate": "monotone"},
     "encoding": {"x": {"field": "res", "type": "quantitative", "scale": {"domain": [1, 460.8], "nice": false, "zero": false}, "axis": null},
       "y": {"field": "r", "type": "quantitative", "axis": null}}},
    {"data": {"name": "schwer"}, "mark": {"type": "line", "color": "black", "strokeWidth": 1, "interpolate": "monotone"},
     "encoding": {"x": {"field": "res", "type": "quantitative", "scale": {"domain": [-242.4, 217.4], "nice": false, "zero": false}, "axis": null},
       "y": {"field": "r", "type": "quantitative", "axis": null}}},
    {"data": {"name": "leicht"}, "mark": {"type": "rule", "color": "black", "strokeWidth": 1.5, "strokeDash": [8, 4]},
     "encoding": {"x": {"aggregate": "min", "field": "res", "type": "quantitative", "scale": {"domain": [1, 460.8], "nice": false, "zero": false}, "axis": null},
       "x2": {"aggregate": "max", "field": "res"}, "y": {"datum": 3, "type": "quantitative", "axis": null}}},
    {"data": {"name": "schwer"}, "mark": {"type": "rule", "color": "black", "strokeWidth": 1.5, "strokeDash": [8, 4]},
     "encoding": {"x": {"aggregate": "min", "field": "res", "type": "quantitative", "scale": {"domain": [-242.4, 217.4], "nice": false, "zero": false}, "axis": null},
       "x2": {"aggregate": "max", "field": "res"}, "y": {"datum": 3, "type": "quantitative", "axis": null}}},
    {"data": {"values": [{}]}, "mark": {"type": "rule", "color": "black", "strokeWidth": 1.5},
     "encoding": {"x": {"datum": 230.9, "type": "quantitative", "scale": {"domain": [1, 460.8], "nice": false, "zero": false}, "axis": null}}},
    {"data": {"values": [{}]},
     "mark": {"type": "text", "align": "center", "baseline": "alphabetic"},
     "encoding": {"x": {"datum": 112.6, "type": "quantitative", "scale": {"domain": [1, 460.8], "nice": false, "zero": false}, "axis": null},
       "y": {"datum": 6.36, "type": "quantitative", "axis": null}, "text": {"value": "leichte Kette"}}},
    {"data": {"values": [{}]},
     "mark": {"type": "text", "align": "center", "baseline": "alphabetic"},
     "encoding": {"x": {"datum": 93.4, "type": "quantitative", "scale": {"domain": [-242.4, 217.4], "nice": false, "zero": false}, "axis": null},
       "y": {"datum": 6.4, "type": "quantitative", "axis": null}, "text": {"value": "schwere Kette"}}},
    {"data": {"name": "leicht"}, "mark": {"type": "line", "opacity": 0},
     "encoding": {
      "x": {"field": "res", "type": "quantitative", "scale": {"domain": [1, 460.8], "nice": false, "zero": false},
        "axis": {"orient": "top", "values": [1,50,100,150,200], "labels": false, "tickSize": -4, "title": null}},
      "y": {"field": "r", "type": "quantitative",
        "axis": {"orient": "right", "values": [0,0.5,1,1.5,2,2.5,3,3.5,4,4.5,5,5.5,6,6.5,7,7.5,8], "labels": false, "title": null,
          "tickSize": {"condition": {"test": "datum.value % 2 === 0", "value": -9}, "value": -4.5}}}
     }},
    {"data": {"name": "schwer"}, "mark": {"type": "line", "opacity": 0},
     "encoding": {
      "x": {"field": "res", "type": "quantitative", "scale": {"domain": [-242.4, 217.4], "nice": false, "zero": false},
        "axis": {"orient": "top", "values": [1,50,100,150,200], "labels": false, "tickSize": -4, "title": null, "domain": false}},
      "y": {"field": "r", "type": "quantitative", "axis": null}
     }}
   ],
   "resolve": {"scale": {"x": "independent"}, "axis": {"x": "independent", "y": "independent"}}
  }
 ], "spacing": 132, "bounds": "flush"}
]
}
